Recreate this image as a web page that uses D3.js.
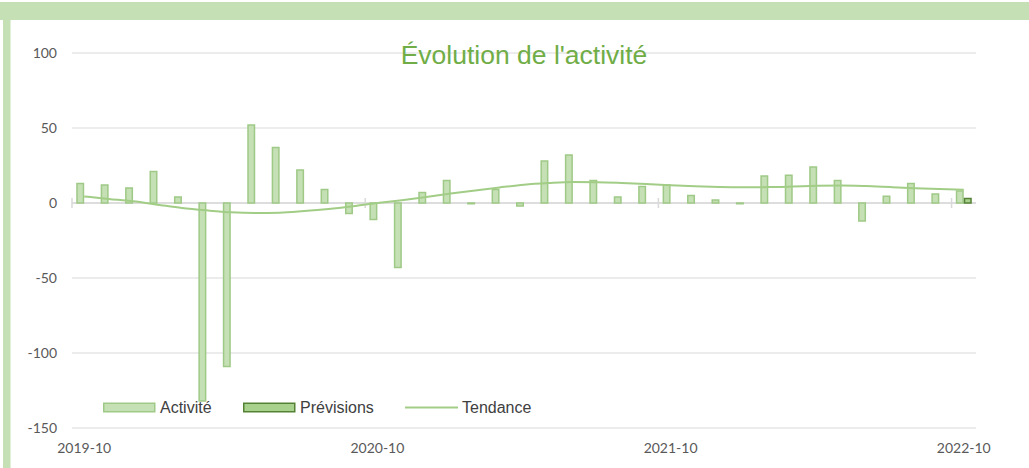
<!DOCTYPE html>
<html lang="fr">
<head>
    <meta charset="UTF-8">
    <title>Évolution de l'activité</title>
    <script src="https://d3js.org/d3.v7.min.js"></script>
    <style>
        body { margin: 0; background: #fff; }
        svg { display: block; }
    </style>
</head>
<body>
<svg id="chart"></svg>
<script>
    // mois (une catégorie par colonne)
    const months = [
        "2019-10", "2019-11", "2019-12", "2020-01", "2020-02", "2020-03", "2020-04", "2020-05",
        "2020-06", "2020-07", "2020-08", "2020-09", "2020-10", "2020-11", "2020-12", "2021-01",
        "2021-02", "2021-03", "2021-04", "2021-05", "2021-06", "2021-07", "2021-08", "2021-09",
        "2021-10", "2021-11", "2021-12", "2022-01", "2022-02", "2022-03", "2022-04", "2022-05",
        "2022-06", "2022-07", "2022-08", "2022-09", "2022-10"
    ];
    const activite = [
        13, 12, 10, 21, 4, -132, -109, 52, 37, 22, 9, -7, -11, -43, 7, 15, -0.5, 9, -2,
        28, 32, 15, 4, 11, 12, 5, 2, -0.5, 18, 18.5, 24, 15, -12, 4.5, 13, 6, 8
    ];
    const previsions = [
        null, null, null, null, null, null, null, null, null, null, null, null, null,
        null, null, null, null, null, null, null, null, null, null, null, null, null,
        null, null, null, null, null, null, null, null, null, null, 3
    ];
    const tendance = [
        4.4, 2.7, 1.1, -1.1, -3.3, -4.9, -6.2, -6.7, -6.5, -5.4, -4, -2.2, 0, 1.9, 4,
        6.3, 8.4, 10.4, 12.2, 13.3, 14, 13.9, 13.4, 12.7, 11.9, 11.2, 10.7, 10.5, 10.6,
        11, 11.5, 11.7, 11.3, 10.6, 9.9, 9.3, 8.9
    ];
    const yTicks = [100, 50, 0, -50, -100, -150];
    const xLabels = ["2019-10", "2020-10", "2021-10", "2022-10"];

    const width = 1029, height = 468;
    const plotLeft = 72, plotRight = 976, plotTop = 53, plotBottom = 428;

    const svg = d3.select("#chart").attr("width", width).attr("height", height);

    // cadre vert
    svg.append("rect").attr("x", 0).attr("y", 2).attr("width", width).attr("height", 18).attr("fill", "#c5e0b4");
    svg.append("rect").attr("x", 3).attr("y", 2).attr("width", 7.5).attr("height", height).attr("fill", "#c5e0b4");

    const x = d3.scaleBand().domain(months).range([plotLeft, plotRight]);
    const bw = x.bandwidth();
    const sub = d3.scaleBand().domain(["act", "prev"]).range([bw / 2 - 8, bw / 2 + 8]);
    const y = d3.scaleLinear().domain([-150, 100]).range([plotBottom, plotTop]);

    // grille
    svg.append("g").selectAll("line")
        .data(yTicks)
        .join("line")
        .attr("x1", plotLeft).attr("x2", plotRight)
        .attr("y1", d => y(d)).attr("y2", d => y(d))
        .attr("stroke", "#d9d9d9").attr("stroke-width", 1);

    svg.append("g").selectAll("text")
        .data(yTicks)
        .join("text")
        .attr("x", 57).attr("y", d => y(d) + 5)
        .attr("text-anchor", "end")
        .attr("font-family", "Lato, 'Open Sans', sans-serif")
        .attr("font-size", 14)
        .attr("fill", "#595959")
        .text(d => d);

    // titre
    svg.append("text")
        .attr("x", (plotLeft + plotRight) / 2).attr("y", 64)
        .attr("text-anchor", "middle")
        .attr("font-family", "'Liberation Sans', Arial, sans-serif")
        .attr("font-size", 26.5)
        .attr("fill", "#70ad47")
        .text("Évolution de l'activité");

    // axe zéro + graduations
    svg.append("line")
        .attr("x1", plotLeft).attr("x2", plotRight)
        .attr("y1", y(0)).attr("y2", y(0))
        .attr("stroke", "#d9d9d9").attr("stroke-width", 1.5);
    svg.append("g").selectAll("line")
        .data(months.filter((d, i) => i % 12 === 0))
        .join("line")
        .attr("x1", d => x(d)).attr("x2", d => x(d))
        .attr("y1", y(0) - 5).attr("y2", y(0) + 5)
        .attr("stroke", "#d9d9d9").attr("stroke-width", 1.5);

    svg.append("g").selectAll("text")
        .data(xLabels)
        .join("text")
        .attr("x", d => x(d) + bw / 2).attr("y", 453)
        .attr("text-anchor", "middle")
        .attr("font-family", "Lato, 'Open Sans', sans-serif")
        .attr("font-size", 14)
        .attr("fill", "#595959")
        .text(d => d);

    // barres activité
    svg.append("g").selectAll("rect")
        .data(activite)
        .join("rect")
        .attr("x", (d, i) => x(months[i]) + sub("act") + 0.75)
        .attr("y", d => y(Math.max(0, d)))
        .attr("width", sub.bandwidth() - 1.5)
        .attr("height", d => Math.abs(y(d) - y(0)))
        .attr("fill", "#c5e0b4")
        .attr("stroke", "#9fc987")
        .attr("stroke-width", 1.5);

    // barres prévisions
    svg.append("g").selectAll("rect")
        .data(previsions.map((d, i) => [i, d]).filter(p => p[1] !== null))
        .join("rect")
        .attr("x", p => x(months[p[0]]) + sub("prev") + 0.75)
        .attr("y", p => y(Math.max(0, p[1])))
        .attr("width", sub.bandwidth() - 1.5)
        .attr("height", p => Math.abs(y(p[1]) - y(0)))
        .attr("fill", "#a9d18e")
        .attr("stroke", "#548235")
        .attr("stroke-width", 1.5);

    // tendance
    const line = d3.line()
        .x((d, i) => x(months[i]) + bw / 2)
        .y(d => y(d))
        .curve(d3.curveMonotoneX);
    svg.append("path")
        .attr("d", line(tendance))
        .attr("fill", "none")
        .attr("stroke", "#a2cd86")
        .attr("stroke-width", 2);

    // légende
    const legend = [
        {label: "Activité", type: "bar", fill: "#c5e0b4", stroke: "#9fc987", x: 103},
        {label: "Prévisions", type: "bar", fill: "#a9d18e", stroke: "#548235", x: 243},
        {label: "Tendance", type: "line", stroke: "#a2cd86", x: 405}
    ];
    const lg = svg.append("g").selectAll("g")
        .data(legend)
        .join("g")
        .attr("transform", d => `translate(${d.x},407.5)`);
    lg.filter(d => d.type === "bar").append("rect")
        .attr("x", 0.75).attr("y", -4.25)
        .attr("width", 51).attr("height", 8.5)
        .attr("fill", d => d.fill).attr("stroke", d => d.stroke).attr("stroke-width", 1.5);
    lg.filter(d => d.type === "line").append("line")
        .attr("x1", 0).attr("x2", 53).attr("y1", 0).attr("y2", 0)
        .attr("stroke", d => d.stroke).attr("stroke-width", 2);
    lg.append("text")
        .attr("x", 57).attr("y", 5.5)
        .attr("font-family", "'Liberation Sans', Arial, sans-serif")
        .attr("font-size", 16)
        .attr("fill", "#404040")
        .text(d => d.label);
</script>
</body>
</html>
